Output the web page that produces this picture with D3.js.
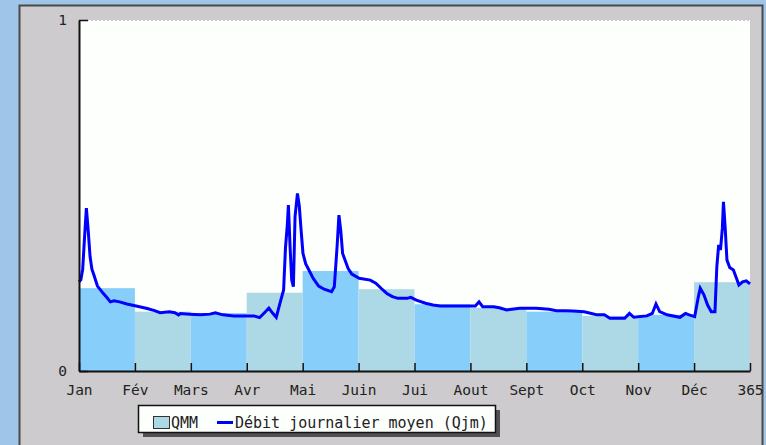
<!DOCTYPE html>
<html><head><meta charset="utf-8">
<script src="https://cdn.jsdelivr.net/npm/d3@7"></script>
<style>html,body{margin:0;padding:0;background:#9fc5e8;}svg{display:block;}</style>
</head><body>
<svg id="c" width="766" height="445"></svg>
<script>
// ---- data ----
const monthLabels = ["Jan","Fév","Mars","Avr","Mai","Juin","Jui","Aout","Sept","Oct","Nov","Déc","365"];
const qmmValues = [0.236,0.169,0.165,0.223,0.285,0.233,0.19,0.18,0.169,0.157,0.16,0.253];
const qjmDays = [0,1,2,3,4,5,6,7,8,10,13,15,17,19,22,26,31,37,41,44,49,52,54,55,60,66,71,74,78,84,95,98,101,103,105,107,109,111,112,113,113.6,114.5,115.4,116.3,117.2,118.5,119.5,120.5,121.5,123,125,127,130,133,137,138.5,140,141,142,143,146,148,152,158,161,164,167,170,173,178,180,183,188,192,196,207,215,217,219,225,228,232,239,248,255,259,264,268,274,278,281,285,288,296,298.6,301,308,311,313,315,319,326,329,331,334,336,337,339,341,343,345,346,347,348,349,349.6,350.5,351.5,353,355,358,360,362,364];
const qjmValues = [0.254,0.26,0.29,0.38,0.464,0.40,0.326,0.29,0.275,0.242,0.222,0.21,0.197,0.2,0.197,0.191,0.185,0.178,0.172,0.166,0.169,0.166,0.16,0.164,0.162,0.16,0.162,0.166,0.16,0.157,0.157,0.152,0.168,0.179,0.165,0.153,0.193,0.231,0.35,0.416,0.473,0.354,0.259,0.24,0.44,0.506,0.47,0.40,0.335,0.305,0.285,0.264,0.242,0.233,0.226,0.24,0.354,0.444,0.40,0.335,0.292,0.276,0.264,0.259,0.25,0.235,0.221,0.212,0.207,0.207,0.21,0.202,0.193,0.188,0.185,0.185,0.185,0.197,0.183,0.183,0.18,0.174,0.179,0.179,0.176,0.172,0.172,0.171,0.169,0.164,0.16,0.16,0.15,0.15,0.164,0.153,0.157,0.164,0.191,0.169,0.16,0.153,0.164,0.16,0.155,0.212,0.236,0.217,0.188,0.169,0.169,0.297,0.359,0.345,0.407,0.482,0.411,0.316,0.295,0.288,0.245,0.254,0.257,0.248];
const yTicks = [0,1];
const barColors = ["#87cefa","#add8e6"];
const lineColor = "#0000ff";

// ---- layout ----
const svg = d3.select("#c");
const L = 79, R = 750, T = 20, B = 371;
const font = "'DejaVu Sans Mono', monospace";

svg.append("rect").attr("x",19.5).attr("y",5.5).attr("width",743).attr("height",460)
  .attr("fill","#cdcbcd").attr("stroke","#4a4a4a").attr("stroke-width",2);

const xm = d3.scaleLinear().domain([0,12]).range([L,R]);
const xd = d3.scaleLinear().domain([0,364]).range([L,R]);
const y = d3.scaleLinear().domain([0,1]).range([B,T]);

svg.append("rect").attr("x",L).attr("y",T).attr("width",R-L).attr("height",B-T).attr("fill","#fdfffd");
svg.append("line").attr("x1",L).attr("x2",R).attr("y1",T+0.5).attr("y2",T+0.5)
  .attr("stroke","#ccc").attr("stroke-dasharray","2,2");

// bars
svg.append("g").selectAll("rect").data(qmmValues).join("rect")
  .attr("x",(d,i)=>xm(i)).attr("width",(d,i)=>xm(i+1)-xm(i))
  .attr("y",d=>y(d)).attr("height",d=>y(0)-y(d))
  .attr("fill",(d,i)=>barColors[i%2]);

// line
const pts = qjmDays.map((d,i)=>[d,qjmValues[i]]);
svg.append("path").datum(pts)
  .attr("d",d3.line().x(p=>xd(p[0])).y(p=>y(p[1])))
  .attr("fill","none").attr("stroke",lineColor).attr("stroke-width",3).attr("stroke-linejoin","miter");

// axes
const xAxis = d3.axisBottom(xm).tickValues(d3.range(0,13)).tickFormat(i=>monthLabels[i])
  .tickSizeInner(-8).tickSizeOuter(0).tickPadding(14);
const gx = svg.append("g").attr("transform",`translate(0,${B})`).call(xAxis);
const yAxis = d3.axisLeft(y).tickValues(yTicks).tickFormat(d3.format("d"))
  .tickSizeInner(-9).tickSizeOuter(0).tickPadding(12);
const gy = svg.append("g").attr("transform",`translate(${L},0)`).call(yAxis);
[gx,gy].forEach(g=>{
  g.selectAll("path").attr("stroke","#111").attr("stroke-width",2);
  g.selectAll("line").attr("stroke","#111").attr("stroke-width",1.5);
  g.selectAll("text").attr("font-family",font).attr("font-size","14.5px").attr("fill","#222");
});

// legend
const lg = svg.append("g");
lg.append("rect").attr("x",143).attr("y",410).attr("width",357).attr("height",27).attr("fill","#505050");
lg.append("rect").attr("x",138.5).attr("y",405.5).attr("width",357).attr("height",27)
  .attr("fill","#fdfffd").attr("stroke","#111").attr("stroke-width",1.5);
lg.append("rect").attr("x",153.5).attr("y",416.5).attr("width",16).attr("height",12)
  .attr("fill",barColors[1]).attr("stroke","#333").attr("stroke-width",1);
lg.append("text").attr("x",171).attr("y",428).text("QMM")
  .attr("font-family",font).attr("font-size","15px").attr("fill","#222");
lg.append("line").attr("x1",217).attr("x2",233).attr("y1",422.5).attr("y2",422.5)
  .attr("stroke",lineColor).attr("stroke-width",3);
lg.append("text").attr("x",235).attr("y",428).text("Débit journalier moyen (Qjm)")
  .attr("font-family",font).attr("font-size","15px").attr("fill","#222");
</script>
</body></html>
